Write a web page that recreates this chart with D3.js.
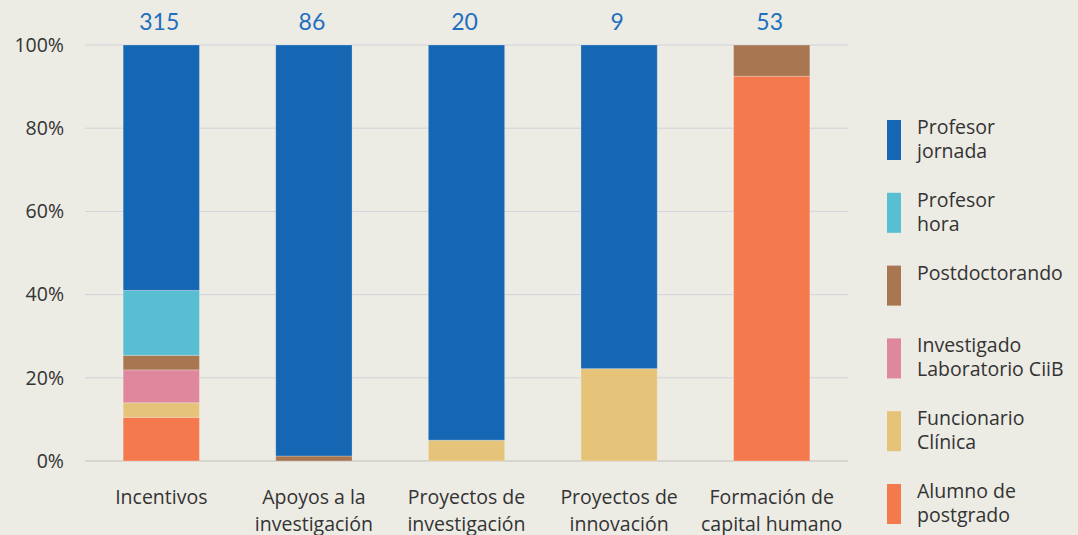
<!DOCTYPE html>
<html><head><meta charset="utf-8">
<script src="https://cdn.jsdelivr.net/npm/d3@7"></script>
<style>
html,body{margin:0;padding:0;background:#ecebe4;}
svg{display:block;font-family:"Open Sans",Lato,sans-serif;}
</style></head>
<body><svg id="c" width="1078" height="535"></svg>
<script>
const categories = [["Incentivos"],["Apoyos a la","investigación"],["Proyectos de","investigación"],["Proyectos de","innovación"],["Formación de","capital humano"]];
const totals = [315, 86, 20, 9, 53];
const seriesNames = [["Alumno de","postgrado"],["Funcionario","Clínica"],["Investigado","Laboratorio CiiB"],["Postdoctorando"],["Profesor","hora"],["Profesor","jornada"]];
// percentages per category, from bottom of stack
const alumno      = [10.5, 0,    0,   0,    92.5];
const funcionario = [3.5,  0,    5,   22.2, 0];
const investigado = [7.9,  0,    0,   0,    0];
const postdoc     = [3.5,  1.2,  0,   0,    7.5];
const profHora    = [15.6, 0,    0,   0,    0];
const profJornada = [59.0, 98.8, 95,  77.8, 0];
const yTicks = [0, 20, 40, 60, 80, 100];
const colors = ["#f47a4e","#e5c47a","#df889d","#a87752","#58bfd2","#1667b3"];

const series = [alumno, funcionario, investigado, postdoc, profHora, profJornada];
const svg = d3.select("#c");
const x = d3.scaleBand().domain(d3.range(categories.length)).range([85, 848]).paddingInner(0.5).paddingOuter(0.25);
const y = d3.scaleLinear().domain([0, 100]).range([461, 45]);

svg.append("g").selectAll("line").data(yTicks).join("line")
  .attr("x1", 85).attr("x2", 848)
  .attr("y1", d => y(d)).attr("y2", d => y(d))
  .attr("stroke", d => d === 0 ? "#d6d5d0" : "#d3d3da").attr("stroke-width", d => d === 0 ? 2 : 1);

svg.append("g").selectAll("text").data(yTicks).join("text")
  .attr("x", 64).attr("y", d => y(d)).attr("dy", "0.35em")
  .attr("text-anchor", "end").attr("font-size", 19.5).attr("fill", "#333")
  .text(d => d + "%");

const stackData = categories.map((c, i) => {
  const o = {i};
  series.forEach((s, k) => o[k] = s[i]);
  return o;
});
const stack = d3.stack().keys(d3.range(series.length))(stackData);
svg.append("g").selectAll("g").data(stack).join("g")
  .attr("fill", (d, k) => colors[k])
  .selectAll("rect").data(d => d.filter(p => p[1] - p[0] > 0)).join("rect")
  .attr("x", d => x(d.data.i)).attr("width", x.bandwidth())
  .attr("y", d => y(Math.min(100, d[1]))).attr("height", d => y(d[0]) - y(Math.min(100, d[1])))
  .attr("stroke", "rgba(255,255,255,0.25)").attr("stroke-width", 1);

svg.append("g").selectAll("text").data(totals).join("text")
  .attr("x", (d, i) => x(i) + x.bandwidth() / 2 - 2).attr("y", 30)
  .attr("text-anchor", "middle").attr("font-size", 23).attr("font-family", "Lato, sans-serif").attr("fill", "#1f6fc0")
  .text(d => d);

const cl = svg.append("g").selectAll("text").data(categories).join("text")
  .attr("x", (d, i) => x(i) + x.bandwidth() / 2).attr("y", 504)
  .attr("text-anchor", "middle").attr("font-size", 19.5).attr("fill", "#333");
cl.selectAll("tspan").data(d => d).join("tspan")
  .attr("x", function() { return this.parentNode.getAttribute("x"); })
  .attr("dy", (d, j) => j === 0 ? 0 : 27).text(d => d);

const legendOrder = d3.range(series.length).reverse();
const lg = svg.append("g").selectAll("g").data(legendOrder).join("g")
  .attr("transform", (k, j) => `translate(887,${120 + j * 72.8})`);
lg.append("rect").attr("width", 14).attr("height", 40).attr("fill", k => colors[k]);
const lt = lg.append("text").attr("x", 30).attr("y", 14).attr("font-size", 19.5).attr("fill", "#333");
lt.selectAll("tspan").data(k => seriesNames[k]).join("tspan")
  .attr("x", 30).attr("dy", (d, j) => j === 0 ? 0 : 24).text(d => d);
</script></body></html>
